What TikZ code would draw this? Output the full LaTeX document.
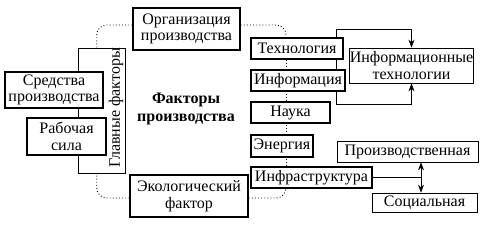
\documentclass[tikz,border=0pt]{standalone}
\usepackage{fontspec}
\setmainfont{Liberation Serif}
\usepackage{tikz}
\usetikzlibrary{arrows.meta,positioning,calc,backgrounds}

\begin{document}
\begin{tikzpicture}[
  x=1pt, y=-1pt,
  tbox/.style={draw, line width=1.5pt, fill=white, inner sep=0pt, align=center,
               font=\fontsize{16}{16.5}\selectfont},
  nbox/.style={draw, line width=0.7pt, fill=white, inner sep=0pt, align=center,
               font=\fontsize{16}{16.5}\selectfont},
  dotline/.style={line width=0.9pt, dash pattern=on 0.9pt off 2.2pt, rounded corners=10pt},
  arr/.style={line width=0.7pt, -{Stealth[length=8pt,width=6pt]}},
]
\useasboundingbox (0,0) rectangle (484,225);

% Main factors
\node[nbox, minimum width=47pt, minimum height=125pt] (glav) at (101.5,110.5) {};
\node[rotate=90, font=\fontsize{16}{16.5}\selectfont] (glavtxt) at (116,108) {Главные факторы};
\node[tbox, minimum width=98pt, minimum height=36pt] (sredstva) at (54,90) {Средства\\производства};
\node[tbox, minimum width=79pt, minimum height=37pt] (rabsila) at (66.5,136.5) {Рабочая\\сила};

% Centre
\node[font=\fontsize{16}{17.5}\selectfont\bfseries, align=center] (faktory) at (186,109) {Факторы\\производства};
\node[tbox, minimum width=107pt, minimum height=42pt] (org) at (186.5,29) {Организация\\производства};
\node[tbox, minimum width=118pt, minimum height=42pt] (eko) at (189,196) {Экологический\\фактор};

% Right column
\coordinate (spine) at (286,0);
\node[tbox, minimum width=92pt, minimum height=21pt] (tech) at (297,48.5) {Технология};
\node[tbox, minimum width=94pt, minimum height=21pt] (info) at (298,80.5) {Информация};
\node[tbox, minimum width=79pt, minimum height=21pt] (nauka) at (290.5,112.5) {Наука};
\node[tbox, minimum width=62pt, minimum height=22pt] (energ) at (282,146) {Энергия};
\node[tbox, minimum width=121pt, minimum height=21pt] (infra) at (311.5,177.5) {Инфраструктура};

\node[nbox, minimum width=123pt, minimum height=35pt] (it) at (411.5,65.5) {Информационные\\технологии};
\node[nbox, minimum width=141pt, minimum height=21pt] (proizv) at (407.5,151.5) {Производственная};
\node[nbox, minimum width=105pt, minimum height=19pt] (soc) at (424.5,202.5) {Социальная};

% Dotted links
\draw[dotline] ([yshift=4pt]org.west) -| ($(glav.north west)!0.4!(glav.north east)$);
\draw[dotline] ([yshift=-2pt]eko.west) -| ($(glav.south west)!0.4!(glav.south east)$);
\draw[dotline] ([yshift=4pt]org.east) -| (tech.north -| spine);
\draw[dotline] ([yshift=-2pt]eko.east) -| (infra.south -| spine);

\begin{scope}[on background layer]
  \draw[dotline] (tech.south -| spine) -- (infra.north -| spine);
  % Bracket to IT
  \coordinate (brtop) at (336,29);
  \coordinate (brbot) at (336,104);
  \draw[line width=0.7pt] (brtop) -- (brbot);
\end{scope}
\draw[arr] (brtop) -| (it.north);
\draw[arr] (brbot) -| (it.south);

% Infrastructure kinds
\coordinate (vx) at (421,0);
\draw[line width=0.7pt] (infra.east) -- (infra.east -| vx);
\draw[arr, {Stealth[length=8pt,width=6pt]}-{Stealth[length=8pt,width=6pt]}] (proizv.south -| vx) -- (soc.north -| vx);
\end{tikzpicture}
\end{document}
